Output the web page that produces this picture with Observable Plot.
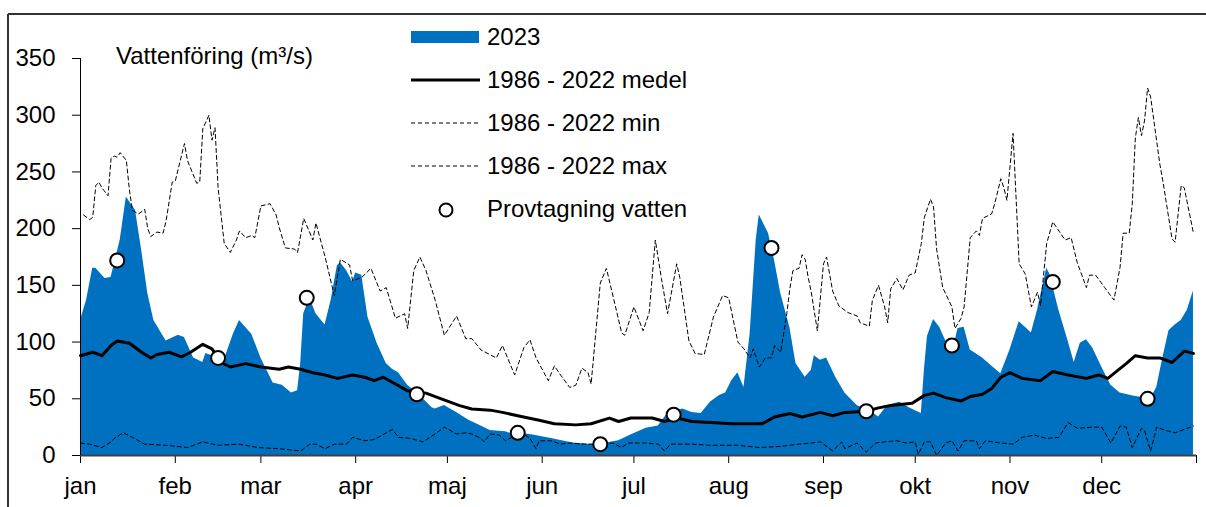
<!DOCTYPE html>
<html><head><meta charset="utf-8">
<script src="https://cdn.jsdelivr.net/npm/d3@7"></script>
<script src="https://cdn.jsdelivr.net/npm/@observablehq/plot@0.6"></script>
<style>
body{margin:0;background:#fff;}
#chart{position:relative;width:1206px;height:507px;overflow:hidden;}
#chart svg{display:block;}
</style></head><body><div id="chart"></div>
<script>
const monthStarts = [0,31,59,90,120,151,181,212,243,273,304,334];
const monthLabels = ["jan","feb","mar","apr","maj","jun","jul","aug","sep","okt","nov","dec"];
const yTicks = [0,50,100,150,200,250,300,350];

// [dag (0 = 1 jan), m3/s]
const flow2023 = [[0,119],[2,137],[4,165],[5,165],[8,156],[10,157],[13,190],[15,228],[18,216],[20,181],[22,143],[24,119],[28,101],[32,106],[34,104],[37,86],[40,82],[41,90],[43,88],[47,84],[50,107],[52,119],[56,107],[59,86],[63,64],[66,62],[69,55],[71,57],[72,80],[73,125],[75,139],[77,125],[80,115],[82,137],[84,167],[85,170],[87,163],[89,153],[90,161],[92,159],[94,122],[97,99],[100,81],[102,76],[104,73],[107,62],[111,53],[115,42],[116,41],[119,44],[123,38],[127,31],[131,26],[134,22],[139,21],[142,18],[143,20],[148,18],[154,15],[161,11],[166,10],[170,10],[176,13],[180,18],[185,24],[189,26],[192,37],[197,41],[200,38],[203,37],[206,47],[209,53],[211,55],[213,66],[215,73],[217,60],[219,107],[221,190],[222,212],[225,196],[227,172],[229,143],[232,113],[234,81],[237,69],[239,75],[240,88],[242,84],[244,86],[247,69],[250,55],[254,44],[259,38],[261,34],[264,44],[268,47],[271,42],[275,37],[276,75],[277,105],[279,120],[281,113],[283,101],[286,100],[287,112],[289,113],[291,93],[295,86],[298,79],[301,72],[304,93],[307,118],[309,113],[311,108],[313,128],[316,165],[317,160],[320,128],[323,101],[325,82],[327,99],[329,102],[331,95],[334,78],[337,62],[340,55],[345,52],[350,50],[352,60],[354,86],[356,110],[358,115],[360,119],[362,128],[364,145]];

const meanFlow = [[0,88],[4,91],[7,88],[10,97],[12,101],[16,99],[20,91],[23,86],[25,89],[29,91],[33,87],[36,91],[40,98],[43,94],[46,82],[49,78],[54,81],[59,78],[65,76],[68,78],[72,76],[76,73],[80,71],[84,68],[89,71],[93,69],[96,66],[99,69],[103,63],[107,57],[113,55],[118,50],[124,44],[128,41],[134,40],[138,38],[143,35],[150,31],[155,28],[162,27],[167,28],[173,33],[176,30],[180,33],[187,33],[191,30],[195,33],[200,30],[206,29],[213,28],[216,28],[223,28],[227,34],[232,37],[236,34],[242,38],[246,35],[250,38],[257,39],[261,42],[265,44],[272,46],[276,53],[279,55],[283,51],[288,48],[291,52],[295,54],[298,59],[301,69],[304,73],[308,68],[314,66],[318,74],[323,71],[329,68],[333,71],[336,68],[342,81],[345,88],[349,86],[353,86],[357,82],[361,92],[364,90]];

const minFlow = [[0,11],[3,10],[7,7],[10,12],[11,15],[14,20],[17,16],[21,10],[28,9],[35,7],[40,12],[45,9],[52,10],[58,7],[65,6],[72,4],[75,10],[77,10],[80,6],[83,10],[87,10],[89,16],[93,13],[96,14],[100,20],[102,23],[104,16],[108,15],[112,12],[116,19],[119,25],[123,19],[126,20],[128,19],[131,15],[132,12],[134,19],[137,18],[139,13],[141,16],[144,14],[145,19],[147,15],[149,6],[150,13],[154,13],[157,10],[160,11],[165,10],[170,10],[174,11],[177,7],[179,11],[185,11],[189,10],[191,4],[193,10],[200,10],[206,9],[213,9],[215,9],[222,7],[229,8],[235,10],[239,11],[242,12],[246,4],[249,12],[250,6],[254,11],[257,3],[260,11],[263,12],[267,13],[270,11],[273,12],[274,1],[276,12],[278,12],[280,0],[283,11],[285,13],[287,4],[289,13],[293,13],[294,6],[296,13],[301,11],[305,10],[308,16],[312,18],[316,15],[320,16],[323,29],[326,24],[331,25],[334,25],[337,11],[340,26],[342,25],[344,7],[347,24],[348,22],[350,4],[352,25],[355,22],[358,20],[361,23],[364,26]];

const maxFlow = [[1,212],[3,208],[4,210],[5,238],[6,241],[7,236],[9,229],[10,262],[11,264],[12,263],[13,267],[15,260],[16,234],[17,216],[19,213],[21,217],[22,200],[23,193],[25,197],[27,196],[28,207],[30,241],[31,242],[34,275],[35,260],[38,240],[39,241],[40,288],[42,300],[43,278],[44,289],[45,236],[47,187],[48,183],[49,179],[51,190],[52,198],[54,192],[56,194],[57,192],[59,220],[62,222],[64,212],[65,201],[67,183],[70,182],[71,179],[73,209],[76,190],[77,205],[80,175],[83,141],[85,173],[88,168],[89,154],[92,157],[95,165],[98,145],[100,148],[103,121],[106,125],[107,112],[109,163],[111,175],[113,163],[116,137],[119,106],[123,123],[126,103],[128,103],[131,93],[136,86],[138,97],[142,71],[145,95],[147,102],[149,86],[153,66],[155,79],[157,71],[160,60],[162,62],[164,77],[166,73],[167,63],[170,152],[172,165],[175,131],[177,108],[178,106],[181,131],[184,110],[186,126],[188,190],[190,156],[192,125],[195,169],[196,157],[199,101],[201,90],[204,89],[207,122],[210,141],[212,139],[215,100],[217,94],[219,86],[220,94],[222,78],[224,86],[226,86],[227,97],[229,91],[231,125],[232,147],[233,163],[235,165],[236,177],[237,173],[238,157],[239,144],[241,110],[243,169],[244,175],[246,145],[248,132],[251,126],[254,123],[255,117],[258,114],[259,137],[261,150],[263,131],[264,117],[265,147],[267,156],[269,146],[271,159],[273,161],[275,187],[276,210],[278,226],[279,219],[280,182],[282,148],[285,131],[286,112],[288,121],[289,131],[291,192],[293,198],[294,194],[295,209],[298,213],[299,222],[301,244],[302,236],[303,225],[305,284],[307,169],[309,160],[311,131],[313,144],[314,132],[316,187],[318,206],[320,198],[322,190],[324,192],[326,170],[329,148],[330,159],[332,159],[335,148],[338,137],[340,166],[341,196],[343,196],[344,222],[345,280],[346,298],[347,282],[348,295],[349,324],[350,316],[353,257],[354,242],[357,191],[358,188],[360,238],[361,236],[364,196]];

const samples = [[12,172],[45,86],[74,139],[110,54],[143,20],[170,10],[194,36],[226,183],[257,39],[285,97],[318,153],[349,50]];

const legendItems = [
  {label:"2023", kind:"area"},
  {label:"1986 - 2022 medel", kind:"mean"},
  {label:"1986 - 2022 min", kind:"dash"},
  {label:"1986 - 2022 max", kind:"dash"},
  {label:"Provtagning vatten", kind:"dot"}
];
const yTitle = "Vattenföring (m³/s)";

const BLUE = "#0070C0";
const FONT = "'Liberation Sans', Arial, Helvetica, sans-serif";
const rows = arr => arr.map(([day, value]) => ({day, value}));

const plot = Plot.plot({
  width: 1206, height: 507,
  marginLeft: 80, marginRight: 10, marginTop: 58, marginBottom: 52,
  style: {fontFamily: FONT, fontSize: "24px", color: "#000", background: "white", overflow: "hidden"},
  x: {domain: [0, 365], ticks: [...monthStarts, 365],
      tickFormat: d => { const i = monthStarts.indexOf(d); return i >= 0 ? monthLabels[i] : ""; },
      tickSize: 8, tickPadding: 13, label: null},
  y: {domain: [0, 350], ticks: yTicks, tickSize: 8, tickPadding: 17, label: null},
  marks: [
    Plot.areaY(rows(flow2023), {x: "day", y: "value", fill: BLUE}),
    Plot.lineY(rows(minFlow), {x: "day", y: "value", stroke: "#000", strokeWidth: 1, strokeDasharray: "4,3"}),
    Plot.lineY(rows(maxFlow), {x: "day", y: "value", stroke: "#000", strokeWidth: 1, strokeDasharray: "4,3"}),
    Plot.lineY(rows(meanFlow), {x: "day", y: "value", stroke: "#000", strokeWidth: 3}),
    Plot.ruleY([0], {stroke: "#404040", strokeWidth: 2}),
    Plot.ruleX([0], {y1: 0, y2: 350, stroke: "#000", strokeWidth: 1}),
    Plot.dot(rows(samples), {x: "day", y: "value", r: 7, fill: "white", stroke: "#000", strokeWidth: 2})
  ]
});
document.getElementById("chart").appendChild(plot);

const svg = d3.select(plot);
// outer frame (left and top edges visible)
svg.append("line").attr("x1", 8).attr("y1", 14).attr("x2", 8).attr("y2", 507).attr("stroke", "#333").attr("stroke-width", 2);
svg.append("line").attr("x1", 8).attr("y1", 14).attr("x2", 1206).attr("y2", 14).attr("stroke", "#333").attr("stroke-width", 2);

// y title
svg.append("text").attr("x", 116).attr("y", 64).attr("text-anchor", "start")
  .attr("font-family", FONT).attr("font-size", 24).attr("fill", "#000").text(yTitle);

// legend
const lg = svg.append("g").attr("font-family", FONT).attr("font-size", 24).attr("text-anchor", "start");
legendItems.forEach((item, i) => {
  const cy = 37 + i * 43;
  if (item.kind === "area") lg.append("rect").attr("x", 411).attr("y", cy - 6).attr("width", 68).attr("height", 12).attr("fill", BLUE);
  if (item.kind === "mean") lg.append("line").attr("x1", 411).attr("x2", 480).attr("y1", cy).attr("y2", cy).attr("stroke", "#000").attr("stroke-width", 3);
  if (item.kind === "dash") lg.append("line").attr("x1", 411).attr("x2", 480).attr("y1", cy).attr("y2", cy).attr("stroke", "#000").attr("stroke-width", 1).attr("stroke-dasharray", "4,3");
  if (item.kind === "dot") lg.append("circle").attr("cx", 446).attr("cy", cy + 1).attr("r", 6.5).attr("fill", "white").attr("stroke", "#000").attr("stroke-width", 2);
  lg.append("text").attr("x", 487).attr("y", cy).attr("dy", "0.35em").attr("text-anchor", "start").attr("fill", "#000").text(item.label);
});
</script></body></html>
